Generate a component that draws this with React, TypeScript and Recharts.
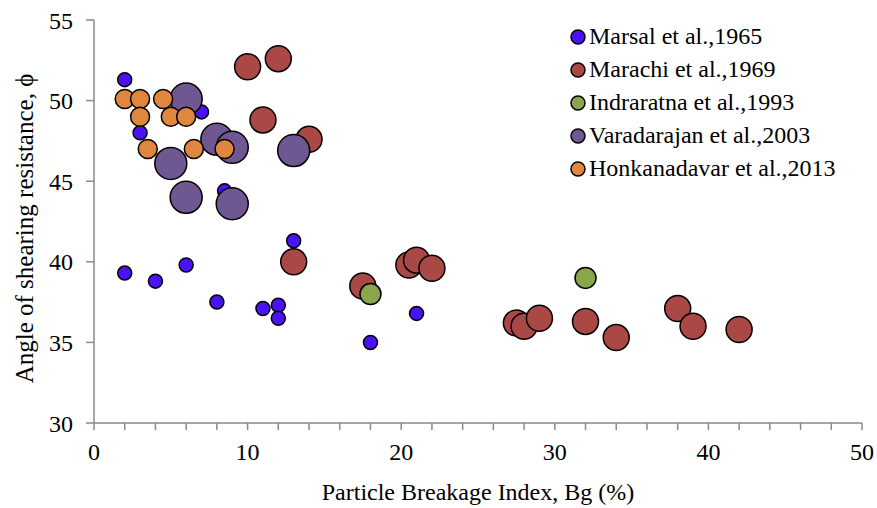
import { ScatterChart, Scatter, XAxis, YAxis, Legend } from 'recharts'

const marsal = [
  { x: 2, y: 51.3 }, { x: 7, y: 49.3 }, { x: 3, y: 48 }, { x: 8.5, y: 44.4 },
  { x: 2, y: 39.3 }, { x: 4, y: 38.8 }, { x: 6, y: 39.8 }, { x: 8, y: 37.5 },
  { x: 11, y: 37.1 }, { x: 12, y: 37.3 }, { x: 12, y: 36.5 }, { x: 13, y: 41.3 },
  { x: 18, y: 35 }, { x: 21, y: 36.8 },
]
const marachi = [
  { x: 10, y: 52.1 }, { x: 12, y: 52.6 }, { x: 11, y: 48.8 }, { x: 14, y: 47.6 },
  { x: 13, y: 40 }, { x: 17.5, y: 38.5 }, { x: 20.5, y: 39.8 }, { x: 21, y: 40.1 },
  { x: 22, y: 39.6 }, { x: 27.5, y: 36.2 }, { x: 28, y: 36 }, { x: 29, y: 36.5 },
  { x: 32, y: 36.3 }, { x: 34, y: 35.3 }, { x: 38, y: 37.1 }, { x: 39, y: 36 },
  { x: 42, y: 35.8 },
]
const indraratna = [{ x: 18, y: 38 }, { x: 32, y: 39 }]
const varadarajan = [
  { x: 6, y: 50.1 }, { x: 8, y: 47.6 }, { x: 9, y: 47.1 }, { x: 5, y: 46.1 },
  { x: 13, y: 46.9 }, { x: 6, y: 44 }, { x: 9, y: 43.6 },
]
const honkanadavar = [
  { x: 2, y: 50.1 }, { x: 3, y: 50.1 }, { x: 4.5, y: 50.1 }, { x: 3, y: 49 },
  { x: 5, y: 49 }, { x: 6, y: 49 }, { x: 3.5, y: 47 }, { x: 6.5, y: 47 },
  { x: 8.5, y: 47 },
]

const xTicks = [0, 2, 4, 6, 8, 10, 12, 14, 16, 18, 20, 22, 24, 26, 28, 30, 32, 34, 36, 38, 40, 42, 44, 46, 48, 50]
const yTicks = [30, 35, 40, 45, 50, 55]

const series = [
  { name: 'Marsal et al.,1965', data: marsal, color: '#4B12F6', r: 7 },
  { name: 'Marachi et al.,1969', data: marachi, color: '#A94845', r: 13 },
  { name: 'Indraratna et al.,1993', data: indraratna, color: '#89A64C', r: 10.5 },
  { name: 'Varadarajan et al.,2003', data: varadarajan, color: '#6F5891', r: 16 },
  { name: 'Honkanadavar et al.,2013', data: honkanadavar, color: '#E0873F', r: 9.5 },
]

const font = '"Liberation Serif", "Times New Roman", serif'
const axisGrey = '#898989'

function ChartLegend() {
  return (
    <div style={{ fontFamily: font, fontSize: 24, color: '#000' }}>
      {series.map((s) => (
        <div key={s.name} style={{ height: 33, display: 'flex', alignItems: 'center', whiteSpace: 'nowrap' }}>
          <svg width={18} height={18} style={{ marginRight: 2 }}>
            <circle cx={9} cy={9} r={7} fill={s.color} stroke="#000" strokeWidth={1.5} />
          </svg>
          <span>{s.name}</span>
        </div>
      ))}
    </div>
  )
}

function YTitle({ viewBox }: any) {
  const cx = 24
  const cy = viewBox.y + viewBox.height / 2 + 7
  return (
    <text
      x={cx}
      y={cy}
      transform={`rotate(-90, ${cx}, ${cy})`}
      textAnchor="middle"
      dominantBaseline="central"
      fontFamily={font}
      fontSize={25}
      fill="#000"
    >
      Angle of shearing resistance, ϕ
    </text>
  )
}

export default function App() {
  return (
    <div style={{ width: 877, height: 508 }}>
      <style>{'body{margin:0}'}</style>
      <ScatterChart width={877} height={508} margin={{ top: 20, right: 15, bottom: 5, left: 0 }}>
        <XAxis
          type="number"
          dataKey="x"
          domain={[0, 50]}
          ticks={xTicks}
          interval={0}
          tickFormatter={(v: number) => (v % 10 === 0 ? String(v) : '')}
          height={80}
          stroke={axisGrey}
          strokeWidth={1.5}
          tickSize={7}
          tickMargin={13}
          tick={{ fill: '#000', fontSize: 24, fontFamily: font }}
          label={{
            value: 'Particle Breakage Index, Bg (%)',
            position: 'insideBottom',
            offset: 3,
            fill: '#000',
            fontSize: 24,
            fontFamily: font,
          }}
        />
        <YAxis
          type="number"
          dataKey="y"
          domain={[30, 55]}
          ticks={yTicks}
          interval={0}
          width={94}
          stroke={axisGrey}
          strokeWidth={1.5}
          tickSize={8}
          tickMargin={13}
          tick={{ fill: '#000', fontSize: 24, fontFamily: font }}
          label={{ content: YTitle }}
        />
        <Legend
          layout="vertical"
          align="center"
          verticalAlign="middle"
          wrapperStyle={{ left: 569, top: 20, width: 'auto' }}
          content={ChartLegend}
        />
        {series.map((s) => (
          <Scatter
            key={s.name}
            name={s.name}
            data={s.data}
            fill={s.color}
            isAnimationActive={false}
            shape={(p: any) => (
              <circle cx={p.cx} cy={p.cy} r={s.r} fill={s.color} stroke="#000" strokeWidth={1.5} />
            )}
          />
        ))}
      </ScatterChart>
    </div>
  )
}
